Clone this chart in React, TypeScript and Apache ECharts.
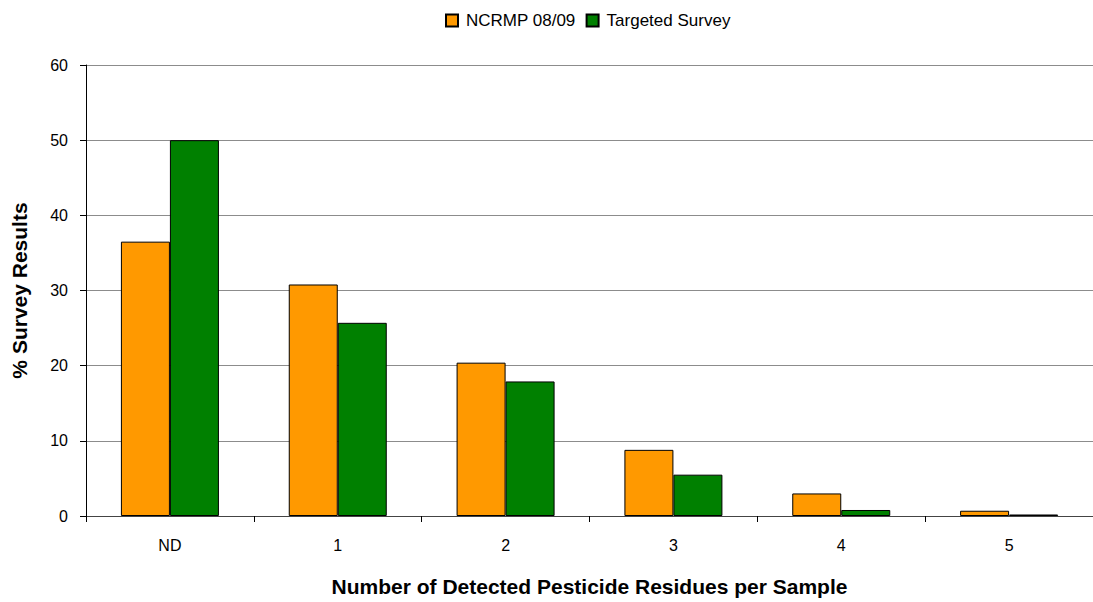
import React, { useEffect, useRef } from "react";
import * as echarts from "echarts";

const categories = ["ND", "1", "2", "3", "4", "5"];
const ncrmp = [36.5, 30.8, 20.4, 8.8, 3.0, 0.7];
const targeted = [50.0, 25.7, 17.9, 5.5, 0.8, 0.2];
const seriesNames = ["NCRMP 08/09", "Targeted Survey"];

const FONT = "Liberation Sans, Arial, sans-serif";

export default function App() {
  const ref = useRef<HTMLDivElement>(null);

  useEffect(() => {
    if (!ref.current) return;
    const chart = echarts.init(ref.current, undefined, { renderer: "svg" });
    chart.setOption({
      animation: false,
      textStyle: { fontFamily: FONT },
      legend: {
        top: 7,
        left: 440,
        itemWidth: 12,
        itemHeight: 12,
        itemGap: 10,
        icon: "rect",
        textStyle: { fontSize: 17, color: "#000", fontFamily: FONT, padding: [0, 0, 0, 3] },
        data: seriesNames,
      },
      grid: { left: 86, right: 0, top: 65, bottom: 83 },
      xAxis: {
        type: "category",
        data: categories,
        axisLine: { lineStyle: { color: "#444", width: 1 } },
        axisTick: { show: true, length: 6, alignWithLabel: false, lineStyle: { color: "#000" } },
        axisLabel: { color: "#000", fontSize: 16, margin: 21, fontFamily: FONT },
        name: "Number of Detected Pesticide Residues per Sample",
        nameLocation: "middle",
        nameGap: 60,
        nameTextStyle: { fontSize: 21, fontWeight: "bold", color: "#000", fontFamily: FONT },
      },
      yAxis: {
        type: "value",
        min: 0,
        max: 60,
        interval: 10,
        axisLine: { show: true, lineStyle: { color: "#000", width: 1 } },
        axisTick: { show: true, length: 6, lineStyle: { color: "#000" } },
        axisLabel: { color: "#000", fontSize: 16, margin: 18, fontFamily: FONT },
        splitLine: { lineStyle: { color: "#8c8c8c", width: 1 } },
        name: "% Survey Results",
        nameLocation: "middle",
        nameRotate: 90,
        nameGap: 56,
        nameTextStyle: { fontSize: 21, fontWeight: "bold", color: "#000", fontFamily: FONT },
      },
      series: [
        {
          name: seriesNames[0],
          type: "bar",
          data: ncrmp,
          barWidth: 49,
          barGap: "0%",
          itemStyle: { color: "#ff9900", borderColor: "#000", borderWidth: 1 },
        },
        {
          name: seriesNames[1],
          type: "bar",
          data: targeted,
          barWidth: 49,
          barGap: "0%",
          itemStyle: { color: "#008000", borderColor: "#000", borderWidth: 1 },
        },
      ],
    });
    return () => chart.dispose();
  }, []);

  return <div ref={ref} style={{ width: 1093, height: 602, position: "absolute", left: 0, top: 0, background: "#fff" }} />;
}
